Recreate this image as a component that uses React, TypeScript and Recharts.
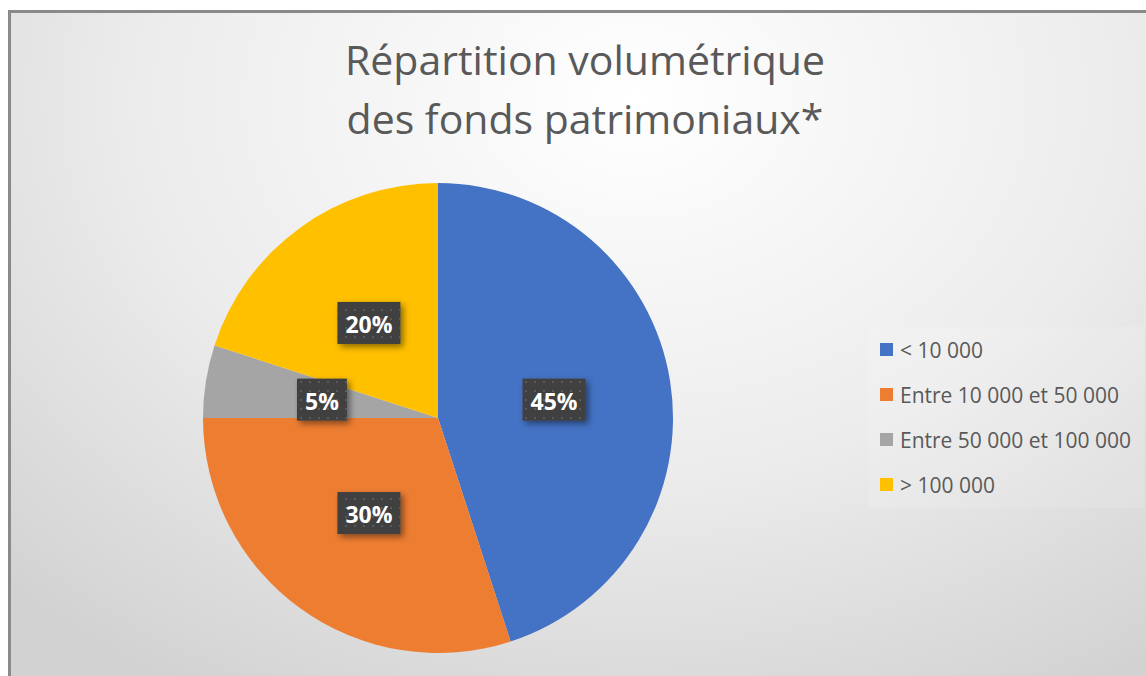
import { PieChart, Pie, Cell, Legend } from 'recharts'

const categories = ['< 10 000', 'Entre 10 000 et 50 000', 'Entre 50 000 et 100 000', '> 100 000']
const shares = [45, 30, 5, 20]
const colors = ['#4472C4', '#ED7D31', '#A5A5A5', '#FFC000']
const titleLines = ['Répartition volumétrique', 'des fonds patrimoniaux*']

const data = categories.map((name, i) => ({ name, value: shares[i] }))

const FONT = '"Open Sans", "Noto Sans", sans-serif'
const RADIAN = Math.PI / 180

const BoxLabel = (props: any) => {
  const { cx, cy, midAngle, outerRadius, value } = props
  const r = outerRadius * 0.5
  const x = cx + r * Math.cos(-midAngle * RADIAN)
  const y = cy + r * Math.sin(-midAngle * RADIAN)
  const text = `${value}%`
  const w = text.length === 2 ? 50 : 63
  const h = 42
  return (
    <g>
      <rect x={x - w / 2} y={y - h / 2} width={w} height={h} fill="#404040" filter="url(#lblShadow)" />
      <rect x={x - w / 2} y={y - h / 2} width={w} height={h} fill="url(#dots)" />
      <text
        x={x}
        y={y + 1}
        textAnchor="middle"
        dominantBaseline="central"
        fill="#ffffff"
        fontFamily={FONT}
        fontWeight={700}
        fontSize={23}
      >
        {text}
      </text>
    </g>
  )
}

// legend drawn from our own arrays so the order stays as in the source
const LegendContent = () => (
  <div
    style={{
      width: 276,
      height: 181,
      boxSizing: 'border-box',
      padding: '0 0 0 12px',
      background: 'rgba(255,255,255,0.12)',
      fontFamily: FONT,
    }}
  >
    {categories.map((c, i) => (
      <div key={c} style={{ display: 'flex', alignItems: 'center', height: 45 }}>
        <span style={{ width: 13, height: 13, background: colors[i], display: 'inline-block', marginRight: 7 }} />
        <span style={{ fontSize: 21, color: '#595959', whiteSpace: 'nowrap' }}>{c}</span>
      </div>
    ))}
  </div>
)

export default function App() {
  return (
    <div style={{ position: 'fixed', left: 0, top: 0, width: 1146, height: 676, overflow: 'hidden', background: '#fff' }}>
      <div
        style={{
          position: 'absolute',
          left: 8,
          top: 10,
          width: 1200,
          height: 720,
          border: '3px solid #8a8a8a',
          background: 'radial-gradient(ellipse 75% 95% at 52% 12%, #ffffff 0%, #ececec 55%, #d2d2d2 100%)',
        }}
      />
      <div
        style={{
          position: 'absolute',
          left: 0,
          top: 30,
          width: 1170,
          textAlign: 'center',
          fontFamily: FONT,
          fontSize: 41,
          lineHeight: '59px',
          color: '#595959',
        }}
      >
        {titleLines.map((t) => (
          <div key={t}>{t}</div>
        ))}
      </div>
      <div style={{ position: 'absolute', left: 0, top: 0 }}>
        <PieChart width={1146} height={676} margin={{ top: 0, right: 0, bottom: 0, left: 0 }}>
          <defs>
            <filter id="lblShadow" x="-30%" y="-30%" width="170%" height="170%">
              <feDropShadow dx="3" dy="3" stdDeviation="3" floodColor="#000" floodOpacity="0.45" />
            </filter>
            <pattern id="dots" x="0" y="0" width="9" height="9" patternUnits="userSpaceOnUse">
              <rect x="3" y="3" width="2" height="2" fill="#5a5a5a" />
            </pattern>
          </defs>
          <Pie
            data={data}
            dataKey="value"
            nameKey="name"
            cx={438}
            cy={418}
            outerRadius={235}
            startAngle={90}
            endAngle={-270}
            stroke="none"
            labelLine={false}
            label={BoxLabel}
            isAnimationActive={false}
          >
            {data.map((d, i) => (
              <Cell key={d.name} fill={colors[i]} />
            ))}
          </Pie>
          <Legend
            layout="vertical"
            content={LegendContent}
            wrapperStyle={{ position: 'absolute', left: 868, top: 327, width: 276, height: 181 }}
          />
        </PieChart>
      </div>
    </div>
  )
}
